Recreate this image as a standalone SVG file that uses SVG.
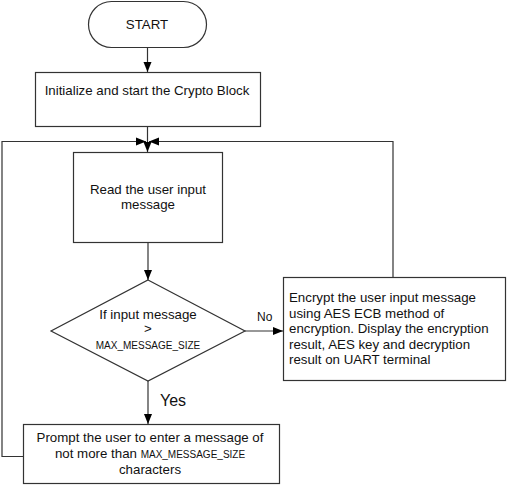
<svg xmlns="http://www.w3.org/2000/svg" width="508" height="485" viewBox="0 0 508 485">
<defs>
<marker id="arr" markerUnits="userSpaceOnUse" markerWidth="10" markerHeight="10" viewBox="0 0 10 10" refX="10" refY="5" orient="auto">
<path d="M0,1 L10,5 L0,9 Z" fill="#000"/>
</marker>
</defs>
<style>
.box{fill:#fff;stroke:#333;stroke-width:1.2}
.ln{fill:none;stroke:#333;stroke-width:1.2}
.t{font-family:"Liberation Sans",Arial,sans-serif;font-size:13.3px;fill:#111}
.c{text-anchor:middle}
.s{font-size:10px}
</style>
<rect width="508" height="485" fill="#fff"/>
<g id="connectors">
<line class="ln" x1="147.5" y1="47" x2="147.5" y2="72" marker-end="url(#arr)"/>
<line class="ln" x1="147.5" y1="126" x2="147.5" y2="152" marker-end="url(#arr)"/>
<line class="ln" x1="148" y1="242" x2="148" y2="280" marker-end="url(#arr)"/>
<line class="ln" x1="245" y1="331" x2="283" y2="331" marker-end="url(#arr)"/>
<line class="ln" x1="148" y1="381" x2="148" y2="424" marker-end="url(#arr)"/>
<polyline class="ln" points="393,277 393,141.5 149,141.5" marker-end="url(#arr)"/>
<polyline class="ln" points="23,456.5 2,456.5 2,141.5 146,141.5" marker-end="url(#arr)"/>
<text class="t" x="257" y="320.5" style="font-size:12px">No</text>
<text class="t" x="160" y="406" style="font-size:16px">Yes</text>
</g>
<g id="start">
<rect class="box" x="88.5" y="1.5" width="118" height="46" rx="23" ry="23"/>
<text class="t c" x="147" y="28.5">START</text>
</g>
<g id="init">
<rect class="box" x="35.5" y="72.5" width="225" height="54"/>
<text class="t c" x="147" y="95">Initialize and start the Crypto Block</text>
</g>
<g id="read">
<rect class="box" x="73.5" y="152.5" width="149" height="90"/>
<text class="t c" x="148" y="194">Read the user input</text>
<text class="t c" x="148" y="209">message</text>
</g>
<g id="decision">
<polygon class="box" points="148,280 245,331 148,381 51,331"/>
<text class="t c" x="148" y="319">If input message</text>
<text class="t c" x="148" y="333">&gt;</text>
<text class="t c s" x="148" y="349">MAX_MESSAGE_SIZE</text>
</g>
<g id="encrypt">
<rect class="box" x="283.5" y="277.5" width="222" height="103"/>
<text class="t" x="289" y="302">Encrypt the user input message</text>
<text class="t" x="289" y="317.5">using AES ECB method of</text>
<text class="t" x="289" y="333">encryption. Display the encryption</text>
<text class="t" x="289" y="348.5">result, AES key and decryption</text>
<text class="t" x="289" y="364">result on UART terminal</text>
</g>
<g id="prompt">
<rect class="box" x="23.5" y="424.5" width="256" height="59"/>
<text class="t c" x="150" y="442">Prompt the user to enter a message of</text>
<text class="t c" x="150" y="458">not more than <tspan class="s">MAX_MESSAGE_SIZE</tspan></text>
<text class="t c" x="150" y="474">characters</text>
</g>
</svg>
